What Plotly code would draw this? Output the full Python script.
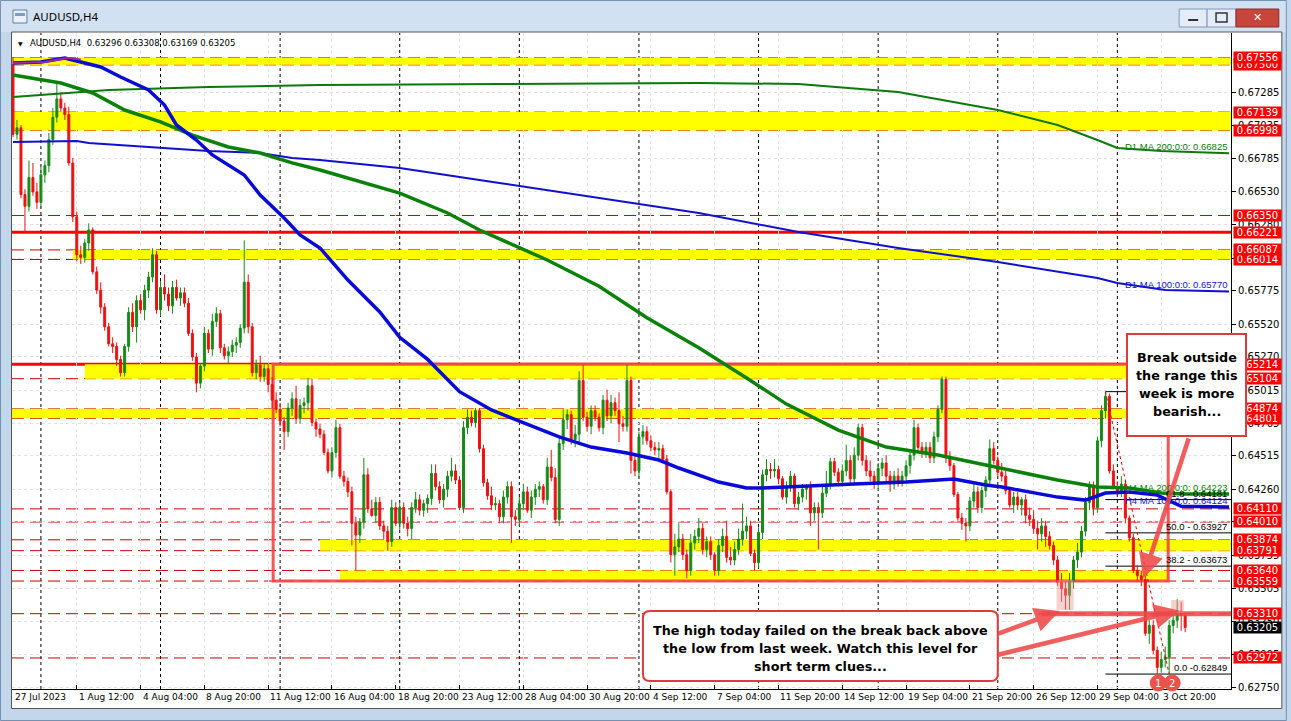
import plotly.graph_objects as go

# ---------------- DATA ----------------
PIP = 1e-4  # candle values below are in pips (price = value * 1e-4)

bar_open = [
 6750,6697,6702,6651,6642,6664,6653,6645,6666,6673,
 6693,6710,6724,6717,6712,6675,6634,6605,6603,6614,
 6624,6592,6578,6565,6550,6537,6535,6525,6515,6535,
 6561,6550,6570,6563,6578,6588,6605,6563,6580,6575,
 6566,6580,6572,6576,6568,6545,6527,6507,6520,6545,
 6533,6554,6560,6534,6528,6531,6536,6538,6549,6584,
 6550,6515,6521,6512,6518,6506,6494,6487,6478,6470,
 6488,6495,6480,6490,6492,6505,6477,6472,6468,6454,
 6440,6454,6473,6436,6432,6424,6400,6391,6401,6437,
 6411,6406,6416,6398,6394,6386,6412,6400,6412,6400,
 6396,6412,6418,6410,6415,6419,6438,6428,6418,6426,
 6436,6440,6433,6412,6473,6481,6477,6486,6457,6431,
 6421,6414,6415,6405,6420,6428,6405,6403,6415,6424,
 6410,6420,6426,6428,6418,6443,6435,6403,6461,6479,
 6483,6464,6468,6509,6481,6474,6486,6481,6473,6494,
 6482,6492,6486,6476,6474,6509,6448,6440,6466,6470,
 6463,6458,6456,6457,6449,6424,6376,6382,6388,6376,
 6364,6385,6390,6396,6380,6386,6376,6364,6383,6390,
 6374,6372,6380,6388,6394,6398,6377,6370,6393,6437,
 6441,6440,6441,6434,6420,6428,6436,6415,6420,6426,
 6428,6408,6412,6408,6423,6430,6447,6439,6432,6440,
 6448,6434,6452,6473,6448,6440,6436,6430,6442,6446,
 6436,6430,6436,6432,6436,6444,6452,6473,6458,6454,
 6458,6450,6466,6487,6510,6450,6444,6422,6404,6400,
 6398,6417,6424,6412,6425,6433,6457,6448,6439,6436,
 6425,6414,6420,6414,6418,6406,6403,6396,6392,6398,
 6390,6383,6372,6355,6350,6345,6356,6372,6378,6394,
 6416,6428,6412,6463,6486,6497,6440,6428,6424,6430,
 6404,6389,6364,6360,6357,6316,6322,6303,6290,6296,
 6298,6322,6326,6333,6329.6]
bar_high = [
 6756,6708,6704,6655,6677,6675,6660,6672,6677,6698,
 6717,6737,6729,6721,6718,6679,6638,6612,6617,6629,
 6626,6596,6584,6568,6553,6542,6538,6528,6537,6565,
 6568,6574,6575,6582,6592,6610,6608,6585,6590,6580,
 6585,6586,6580,6580,6572,6548,6530,6522,6550,6548,
 6560,6565,6563,6537,6535,6540,6542,6552,6616,6590,
 6553,6525,6528,6522,6522,6512,6500,6492,6481,6492,
 6500,6505,6495,6496,6511,6510,6480,6476,6471,6457,
 6458,6479,6476,6440,6435,6428,6405,6404,6450,6442,
 6418,6420,6420,6402,6398,6418,6416,6416,6416,6405,
 6416,6424,6422,6418,6422,6445,6445,6432,6430,6440,
 6450,6445,6436,6478,6487,6486,6488,6488,6460,6434,
 6428,6420,6418,6425,6432,6432,6410,6420,6430,6428,
 6425,6430,6432,6430,6450,6456,6442,6465,6487,6487,
 6486,6475,6516,6521,6485,6490,6490,6484,6498,6502,
 6498,6496,6500,6482,6521,6512,6452,6470,6475,6474,
 6467,6462,6462,6460,6452,6426,6392,6400,6392,6380,
 6392,6395,6404,6400,6390,6390,6378,6388,6396,6402,
 6382,6386,6396,6415,6405,6402,6380,6397,6441,6449,
 6446,6449,6444,6436,6432,6440,6438,6424,6430,6430,
 6432,6416,6416,6428,6440,6450,6450,6442,6445,6460,
 6452,6458,6476,6476,6452,6448,6440,6446,6450,6452,
 6440,6440,6442,6440,6448,6456,6479,6476,6462,6462,
 6462,6470,6490,6512,6512,6455,6446,6424,6408,6404,
 6420,6432,6428,6428,6436,6464,6462,6451,6446,6440,
 6428,6424,6424,6420,6422,6412,6410,6402,6404,6402,
 6394,6386,6375,6362,6356,6362,6375,6385,6398,6420,
 6432,6432,6466,6490,6500.5,6499,6445,6432,6436,6433,
 6406,6392,6368,6364,6360,6326,6326,6306,6302,6306,
 6326,6330,6342,6340,6330.8]
bar_low = [
 6695,6693,6648,6622,6638,6650,6640,6641,6660,6668,
 6689,6706,6714,6708,6673,6630,6600,6598,6599,6608,
 6590,6575,6560,6547,6535,6530,6520,6512,6512,6531,
 6546,6538,6560,6555,6572,6584,6560,6558,6570,6562,
 6560,6570,6566,6565,6543,6524,6500,6503,6516,6530,
 6528,6550,6530,6525,6522,6527,6530,6534,6545,6545,
 6512,6510,6508,6508,6500,6488,6484,6474,6456,6466,
 6482,6476,6476,6484,6486,6474,6466,6465,6452,6438,
 6435,6450,6434,6428,6420,6383,6364,6385,6396,6408,
 6405,6400,6395,6388,6379,6382,6398,6395,6396,6390,
 6388,6408,6406,6405,6408,6414,6425,6415,6412,6420,
 6432,6430,6410,6408,6468,6474,6473,6454,6428,6418,
 6410,6410,6400,6400,6415,6385,6398,6398,6410,6408,
 6404,6414,6420,6415,6414,6432,6400,6398,6456,6472,
 6460,6458,6462,6478,6470,6468,6478,6470,6468,6478,
 6476,6482,6462,6470,6470,6438,6436,6435,6460,6460,
 6455,6452,6450,6446,6422,6370,6360,6378,6372,6358,
 6360,6380,6385,6376,6374,6372,6360,6360,6378,6370,
 6368,6368,6376,6383,6388,6375,6364,6366,6388,6432,
 6434,6435,6430,6418,6415,6424,6412,6410,6416,6418,
 6398,6402,6380,6404,6420,6426,6436,6428,6428,6436,
 6430,6430,6448,6444,6436,6432,6426,6425,6436,6432,
 6424,6426,6428,6428,6432,6438,6448,6455,6450,6450,
 6446,6446,6462,6484,6446,6440,6420,6402,6395,6386,
 6394,6412,6408,6408,6420,6428,6445,6436,6432,6422,
 6412,6408,6410,6406,6400,6398,6392,6380,6386,6382,
 6380,6368,6352,6340,6334,6334,6350,6366,6374,6390,
 6410,6406,6408,6458,6480,6438,6426,6420,6420,6400,
 6386,6362,6356,6352,6314,6308,6300,6284.9,6286,6290,
 6285,6316,6320,6318,6316.9]
bar_close = [
 6697,6702,6651,6642,6664,6653,6645,6666,6673,6693,
 6710,6724,6717,6712,6675,6634,6605,6603,6614,6624,
 6592,6578,6565,6550,6537,6535,6525,6515,6535,6561,
 6550,6570,6563,6578,6588,6605,6563,6580,6575,6566,
 6580,6572,6576,6568,6545,6527,6507,6520,6545,6533,
 6554,6560,6534,6528,6531,6536,6538,6549,6584,6550,
 6515,6521,6512,6518,6506,6494,6487,6478,6470,6488,
 6495,6480,6490,6492,6505,6477,6472,6468,6454,6440,
 6454,6473,6436,6432,6424,6400,6391,6401,6437,6411,
 6406,6416,6398,6394,6386,6412,6400,6412,6400,6396,
 6412,6418,6410,6415,6419,6438,6428,6418,6426,6436,
 6440,6433,6412,6473,6481,6477,6486,6457,6431,6421,
 6414,6415,6405,6420,6428,6405,6403,6415,6424,6410,
 6420,6426,6428,6418,6443,6435,6403,6461,6479,6483,
 6464,6468,6509,6481,6474,6486,6481,6473,6494,6482,
 6492,6486,6476,6474,6509,6448,6440,6466,6470,6463,
 6458,6456,6457,6449,6424,6376,6382,6388,6376,6364,
 6385,6390,6396,6380,6386,6376,6364,6383,6390,6374,
 6372,6380,6388,6394,6398,6377,6370,6393,6437,6441,
 6440,6441,6434,6420,6428,6436,6415,6420,6426,6428,
 6408,6412,6408,6423,6430,6447,6439,6432,6440,6448,
 6434,6452,6473,6448,6440,6436,6430,6442,6446,6436,
 6430,6436,6432,6436,6444,6452,6473,6458,6454,6458,
 6450,6466,6487,6510,6450,6444,6422,6404,6400,6398,
 6417,6424,6412,6425,6433,6457,6448,6439,6436,6425,
 6414,6420,6414,6418,6406,6403,6396,6392,6398,6390,
 6383,6372,6355,6350,6345,6356,6372,6378,6394,6416,
 6428,6412,6463,6486,6497,6440,6428,6424,6430,6404,
 6389,6364,6360,6357,6316,6322,6303,6290,6296,6298,
 6322,6326,6333,6329.6,6320.5]

# time axis (H4 bars, index 0 = first visible bar)
tick_bars = [0,16,32,48,64,80,96,112,128,144,160,176,192,208,224,240,256,272,288]
tick_labels = ["27 Jul 2023","1 Aug 12:00","4 Aug 04:00","8 Aug 20:00","11 Aug 12:00",
               "16 Aug 04:00","18 Aug 20:00","23 Aug 12:00","28 Aug 04:00","30 Aug 20:00",
               "4 Sep 12:00","7 Sep 04:00","11 Sep 20:00","14 Sep 12:00","19 Sep 04:00",
               "21 Sep 20:00","26 Sep 12:00","29 Sep 04:00","3 Oct 20:00"]
week_start_bars = [7,37,67,97,127,157,187,217,247,277]

price_ticks = [0.67285,0.67035,0.66785,0.66530,0.66280,0.66025,0.65775,0.65520,0.65270,
               0.65015,0.64765,0.64515,0.64260,0.64010,0.63755,0.63505,0.63250,0.62995,0.62750]

# horizontal levels
band_top  = [0.67556,0.67139,0.66087,0.65214,0.64874,0.63874,0.63640]
band_bot  = [0.67500,0.66998,0.66014,0.65104,0.64801,0.63791,0.63559]
band_from = [None,None,15,18,None,77,82]
band_to   = [None,None,None,None,None,None,289.75]
dashed_levels = [0.67556,0.67500,0.67139,0.66998,0.66350,0.66087,0.66014,0.65104,0.64874,
                 0.64801,0.64110,0.64010,0.63874,0.63791,0.63640,0.63559,0.63310,0.62972]
solid_levels = [0.66221,0.65214]
label_levels = [0.67556,0.67500,0.67139,0.66998,0.66350,0.66221,0.66087,0.66014,0.65214,0.65104,
                0.64874,0.64801,0.64110,0.64010,0.63874,0.63791,0.63640,0.63559,0.63310,0.62972]
range_box_bars = [65.25,289.75]
range_box_prices = [0.63559,0.65214]
focus_level = 0.63310
focus_from_bar = 258
zone_bars = [[261.75,266.0],[290.5,293.75]]
zone_prices = [[0.63338,0.63567],[0.63315,0.63414]]

# moving averages (sampled points)
h4ma100_bar = [0,7,13,22,27,34,38,41,46,50,58,62,68,72,77,84,92,97,104,112,120,128,137,145,154,
               162,167,177,184,188,198,211,224,236,244,248,262,269,274,280,287,293,305]
h4ma100_val = [6751.4,6752.2,6755.2,6748.4,6740.7,6730.8,6719.3,6704.1,6692.6,6681.2,6665.9,6650.6,
               6633.1,6620.1,6610.2,6585.7,6561.3,6542.0,6525.1,6500.5,6486.5,6476.5,6465.9,6458.2,
               6453.6,6448.3,6442.2,6431.5,6426.9,6426.9,6428.4,6430.0,6431.5,6433.8,6429.2,6427.7,
               6420.0,6417.7,6423.1,6423.8,6421.5,6413.0,6412.4]
h4ma200_bar = [0,12,20,28,37,45,54,62,70,77,97,109,117,134,147,159,172,184,194,207,219,232,244,262,
               272,280,288,294,305]
h4ma200_val = [6742.2,6736.1,6728.5,6715.5,6706.4,6696.4,6687.3,6682.7,6675.1,6669.7,6652.1,6636.9,
               6623.9,6601.0,6581.0,6557.0,6534.0,6511.0,6491.0,6471.2,6458.2,6452.1,6444.5,6433.0,
               6427.7,6426.9,6423.1,6422.3,6422.3]
d1ma200_bar = [0,24,49,77,122,172,197,222,247,262,272,277,288,305]
d1ma200_val = [6725.4,6730.8,6733.1,6734.6,6735.4,6736.1,6735.4,6729.3,6715.5,6704.1,6692.6,6686.5,
               6684.2,6682.5]
d1ma100_bar = [0,16,19,37,49,62,70,77,97,122,147,172,197,222,247,272,277,289,305]
d1ma100_val = [6691.1,6691.9,6690.3,6686.5,6684.2,6682.7,6678.9,6677.3,6671.2,6659.8,6648.3,6636.9,
               6622.4,6610.2,6599.5,6587.3,6583.4,6578.1,6577.0]
d1ma50_bar = [0,8,12,14,17]
d1ma50_val = [6751.4,6752.2,6754.5,6755.2,6754.0]

# fibonacci retracement
fib_from_bar = 274
fib_ratio = ["100.0","61.8","50.0","38.2","0.0"]
fib_price = [0.65005,0.64181,0.63927,0.63673,0.62849]
fib_swing_bars = [274,290]

callout_top = ["Break outside","the range this","week is more","bearish..."]
callout_bottom = ["The high today failed on the break back above",
                  "the low from last week. Watch this level for",
                  "short term clues..."]

# ---------------- GEOMETRY ----------------
W, H = 1291, 721
PL, PR, PT, PB = 12, 1235, 33, 689
X_RANGE = [-0.25, 305.5]
Y_RANGE = [0.62735, 0.67743]

def px(x):
    return (x - PL) / (PR - PL)

def py(y):
    return (PB - y) / (PB - PT)

o = [v * PIP for v in bar_open]
h = [v * PIP for v in bar_high]
l = [v * PIP for v in bar_low]
c = [v * PIP for v in bar_close]
bars = list(range(len(c)))

RED = "#ff0000"
DRED = "#cc0000"
SALMON = "rgba(238,72,72,0.88)"
BOXRED = "#e03a3a"
FONT = "DejaVu Sans"
SMALL = "Liberation Sans"

fig = go.Figure()

fig.add_trace(go.Candlestick(
    x=bars, open=o, high=h, low=l, close=c,
    increasing=dict(line=dict(color="#178a17", width=1), fillcolor="#178a17"),
    decreasing=dict(line=dict(color="#ee1111", width=1), fillcolor="#ee1111"),
    whiskerwidth=0, showlegend=False, hoverinfo="skip"))

def ma_line(bx, vals, color, width):
    fig.add_trace(go.Scatter(x=bx, y=[v * PIP for v in vals], mode="lines",
                             line=dict(color=color, width=width), hoverinfo="skip",
                             showlegend=False))

ma_line(d1ma200_bar, d1ma200_val, "#0a7a0a", 2)
ma_line(d1ma100_bar, d1ma100_val, "#1010d0", 2)
ma_line(h4ma200_bar, h4ma200_val, "#0a820a", 3.5)
ma_line(h4ma100_bar, h4ma100_val, "#0a0ad8", 3.5)
ma_line(d1ma50_bar, d1ma50_val, "#9a2aa8", 2)

# fib swing dotted line
fig.add_trace(go.Scatter(x=fib_swing_bars, y=[fib_price[0], fib_price[-1]], mode="lines",
                         line=dict(color="#dd0000", width=1, dash="dot"),
                         hoverinfo="skip", showlegend=False))

shapes = []

def prect(x0, y0, x1, y1, **kw):
    shapes.append(dict(type="rect", xref="paper", yref="paper",
                       x0=px(x0), x1=px(x1), y0=py(y1), y1=py(y0), **kw))

# window chrome
prect(0, 0, W, 32, fillcolor="#d2e1f2", line=dict(width=0), layer="below")
prect(0.5, 0.5, W - 0.5, H - 0.5, line=dict(color="#7590b0", width=1), fillcolor="rgba(0,0,0,0)", layer="below")
prect(11.5, 32, 1286, 708.5, fillcolor="#ffffff", line=dict(color="#555555", width=1), layer="below")
# title icon
prect(13, 10, 27, 23, fillcolor="#eaf1fa", line=dict(color="#5f7fa5", width=1), layer="above")
prect(15, 13, 25, 16, fillcolor="#7a9cc8", line=dict(width=0), layer="above")
# window buttons
prect(1183, 9, 1211, 27, fillcolor="#e3ecf7", line=dict(color="#8199b8", width=1), layer="above")
prect(1192, 19, 1202, 21, fillcolor="#333333", line=dict(width=0), layer="above")
prect(1211, 9, 1240, 27, fillcolor="#e3ecf7", line=dict(color="#8199b8", width=1), layer="above")
prect(1220, 13, 1231, 22, fillcolor="rgba(0,0,0,0)", line=dict(color="#333333", width=1.5), layer="above")
prect(1240, 9, 1283, 27, fillcolor="#c8453c", line=dict(color="#8a2e2a", width=1), layer="above")

# yellow bands
for top, bot, f, t in zip(band_top, band_bot, band_from, band_to):
    shapes.append(dict(type="rect", xref="x", yref="y",
                       x0=X_RANGE[0] if f is None else f,
                       x1=X_RANGE[1] if t is None else t,
                       y0=bot, y1=top, fillcolor="#ffff00", line=dict(width=0), layer="between"))
# weekly separators
for b in week_start_bars:
    shapes.append(dict(type="line", xref="x", yref="paper", x0=b, x1=b, y0=0, y1=1,
                       line=dict(color="#000000", width=1, dash="dot"), layer="between"))
# dashed levels
for lv in dashed_levels:
    shapes.append(dict(type="line", xref="paper", yref="y", x0=0, x1=1, y0=lv, y1=lv,
                       line=dict(color=DRED, width=1, dash="12px,6px"), layer="between"))
# range box
shapes.append(dict(type="rect", xref="x", yref="y",
                   x0=range_box_bars[0], x1=range_box_bars[1],
                   y0=range_box_prices[0], y1=range_box_prices[1],
                   line=dict(color="rgba(240,70,70,0.9)", width=3), fillcolor="rgba(0,0,0,0)",
                   layer="between"))
# solid levels
for lv in solid_levels:
    shapes.append(dict(type="line", xref="paper", yref="y", x0=0, x1=1, y0=lv, y1=lv,
                       line=dict(color=RED, width=3), layer="between"))
# fib lines
for fp in fib_price:
    shapes.append(dict(type="line", xref="x", yref="y", x0=fib_from_bar, x1=X_RANGE[1],
                       y0=fp, y1=fp, line=dict(color="#000000", width=1), layer="between"))
# focus level (thick)
shapes.append(dict(type="line", xref="x", yref="y", x0=focus_from_bar, x1=X_RANGE[1],
                   y0=focus_level, y1=focus_level, line=dict(color=SALMON, width=5), layer="above"))
# pink zones
for zb, zp in zip(zone_bars, zone_prices):
    shapes.append(dict(type="rect", xref="x", yref="y", x0=zb[0], x1=zb[1], y0=zp[0], y1=zp[1],
                       fillcolor="rgba(240,150,150,0.45)", line=dict(width=0), layer="above"))

# rounded lower callout box
def rounded(x0, y0, x1, y1, r):
    rx, ry = r / (PR - PL), r / (PB - PT)
    X0, X1, Y0, Y1 = px(x0), px(x1), py(y0), py(y1)
    return (f"M {X0+rx},{Y0} L {X1-rx},{Y0} Q {X1},{Y0} {X1},{Y0-ry} "
            f"L {X1},{Y1+ry} Q {X1},{Y1} {X1-rx},{Y1} L {X0+rx},{Y1} "
            f"Q {X0},{Y1} {X0},{Y1+ry} L {X0},{Y0-ry} Q {X0},{Y0} {X0+rx},{Y0} Z")

shapes.append(dict(type="path", xref="paper", yref="paper", path=rounded(645, 611, 1001, 681, 7),
                   fillcolor="#ffffff", line=dict(color=BOXRED, width=2), layer="above"))

# 1/2 markers
for cx in [1162, 1176]:
    shapes.append(dict(type="circle", xref="paper", yref="paper",
                       x0=px(cx - 8), x1=px(cx + 8), y0=py(691), y1=py(675),
                       fillcolor="#e8534b", line=dict(color="#e8534b", width=1), layer="above"))

ann = []
# title
ann.append(dict(text="AUDUSD,H4", xref="paper", yref="paper", x=px(31), y=py(17),
                xanchor="left", yanchor="middle", showarrow=False,
                font=dict(family="Noto Sans", size=11.5, color="#000000")))
ann.append(dict(text="✕", xref="paper", yref="paper", x=px(1261.5), y=py(18),
                xanchor="center", yanchor="middle", showarrow=False,
                font=dict(family=FONT, size=11, color="#ffffff")))
# header
ann.append(dict(text="▼", xref="paper", yref="paper", x=px(16), y=py(43),
                xanchor="left", yanchor="middle", showarrow=False,
                font=dict(family=FONT, size=6, color="#000000")))
hdr = "AUDUSD,H4  " + " ".join(f"{v:.5f}" for v in (o[-1], h[-1], l[-1], c[-1]))
ann.append(dict(text=hdr, xref="paper", yref="paper", x=px(28), y=py(43),
                xanchor="left", yanchor="middle", showarrow=False,
                font=dict(family=FONT, size=8.5, color="#000000")))

# x labels (left aligned at ticks)
for b, t in zip(tick_bars, tick_labels):
    ann.append(dict(text=t, xref="x", yref="paper", x=b, y=py(697), xanchor="left",
                    yanchor="middle", showarrow=False,
                    font=dict(family=FONT, size=9, color="#000000")))

# MA labels
ma_labels = [("D1 MA 200:0:0: ", d1ma200_val[-1], "#0a7a0a"),
             ("D1 MA 100:0:0: ", d1ma100_val[-1], "#1010d0"),
             ("H4 MA 200:0:0: ", h4ma200_val[-1], "#0a820a"),
             ("H4 MA 100:0:0: ", h4ma100_val[-1], "#1010d0")]
for name, v, col in ma_labels:
    ann.append(dict(text=f"{name}{v*PIP:.5f}", xref="paper", yref="y", x=px(1233), y=v * PIP,
                    xanchor="right", yanchor="bottom", showarrow=False, yshift=-1,
                    font=dict(family=SMALL, size=9.5, color=col)))
# fib labels
for r, fp in zip(fib_ratio[1:], fib_price[1:]):
    sep = " -" if r == "0.0" else " - "
    ann.append(dict(text=f"{r}{sep}{fp:.5f}", xref="paper", yref="y", x=px(1233), y=fp,
                    xanchor="right", yanchor="bottom", showarrow=False, yshift=-1,
                    font=dict(family=SMALL, size=9.5, color="#000000")))

# price level boxes on the axis (bottom first so upper ones overlay)
for lv in reversed(label_levels):
    ann.append(dict(text=f"{lv:.5f}", xref="paper", yref="y", x=px(1237), y=lv,
                    xanchor="left", yanchor="middle", showarrow=False,
                    bgcolor="#ff0000", borderpad=0, width=47, height=11,
                    font=dict(family=FONT, size=10, color="#ffffff")))
ann.append(dict(text=f"{c[-1]:.5f}", xref="paper", yref="y", x=px(1237), y=c[-1],
                xanchor="left", yanchor="middle", showarrow=False,
                bgcolor="#000000", borderpad=0, width=47, height=11,
                font=dict(family=FONT, size=10, color="#ffffff")))

# lower callout text
for txt, yy in zip(callout_bottom, [630, 648, 666]):
    ann.append(dict(text=f"<b>{txt}</b>", xref="paper", yref="paper", x=px(823), y=py(yy),
                    xanchor="center", yanchor="middle", showarrow=False,
                    font=dict(family=FONT, size=12.75, color="#000000")))

# arrows (head and tail in data units)
arrows = [((283.5, 0.63580), (295.0, 0.64659)),
          ((262.5, 0.63330), (246.75, 0.63154)),
          ((292.5, 0.63335), (246.75, 0.62994))]
for (hx, hy), (tx, ty) in arrows:
    ann.append(dict(text="", x=hx, y=hy, xref="x", yref="y", ax=tx, ay=ty, axref="x", ayref="y",
                    showarrow=True, arrowhead=2, arrowsize=1.1, arrowwidth=4.5,
                    arrowcolor=SALMON, standoff=0, startstandoff=0))

# upper callout box (drawn over the axis labels, as in the reference)
ann.append(dict(text=" ", xref="paper", yref="paper", x=px(1190.5), y=py(385),
                xanchor="center", yanchor="middle", showarrow=False,
                width=115, height=98, borderpad=1, borderwidth=2,
                bordercolor=BOXRED, bgcolor="#ffffff"))
for txt, yy in zip(callout_top, [357, 375, 393, 411.5]):
    ann.append(dict(text=f"<b>{txt}</b>", xref="paper", yref="paper", x=px(1190.5), y=py(yy),
                    xanchor="center", yanchor="middle", showarrow=False,
                    font=dict(family=FONT, size=12.75, color="#000000")))

# marker numbers
for cx, t in [(1162, "1"), (1176, "2")]:
    ann.append(dict(text=t, xref="paper", yref="paper", x=px(cx), y=py(683),
                    xanchor="center", yanchor="middle", showarrow=False,
                    font=dict(family=FONT, size=10, color="#ffffff")))

fig.update_layout(
    width=W, height=H,
    margin=dict(l=PL, r=W - PR, t=PT, b=H - PB),
    paper_bgcolor="#c2d6ec", plot_bgcolor="#ffffff",
    showlegend=False, hovermode=False,
    shapes=shapes, annotations=ann,
    xaxis=dict(range=X_RANGE, rangeslider=dict(visible=False), tickvals=tick_bars,
               showticklabels=False, ticks="inside", ticklen=4, tickcolor="#000000",
               showline=True, linecolor="#000000", linewidth=1, showgrid=True,
               gridcolor="#e3e3e3", griddash="dot", zeroline=False, fixedrange=True),
    yaxis=dict(range=Y_RANGE, side="right", tickvals=price_ticks,
               ticktext=[f"{v:.5f}" for v in price_ticks], ticks="outside", ticklen=4,
               tickcolor="#000000", showline=True, linecolor="#000000", linewidth=1,
               tickfont=dict(family=FONT, size=10, color="#000000"),
               showgrid=True, gridcolor="#e3e3e3", griddash="dot", zeroline=False,
               fixedrange=True),
)

fig.write_html("out.html", config={"displayModeBar": False},
               post_script="document.body.style.margin='0';document.body.style.overflow='hidden';")
